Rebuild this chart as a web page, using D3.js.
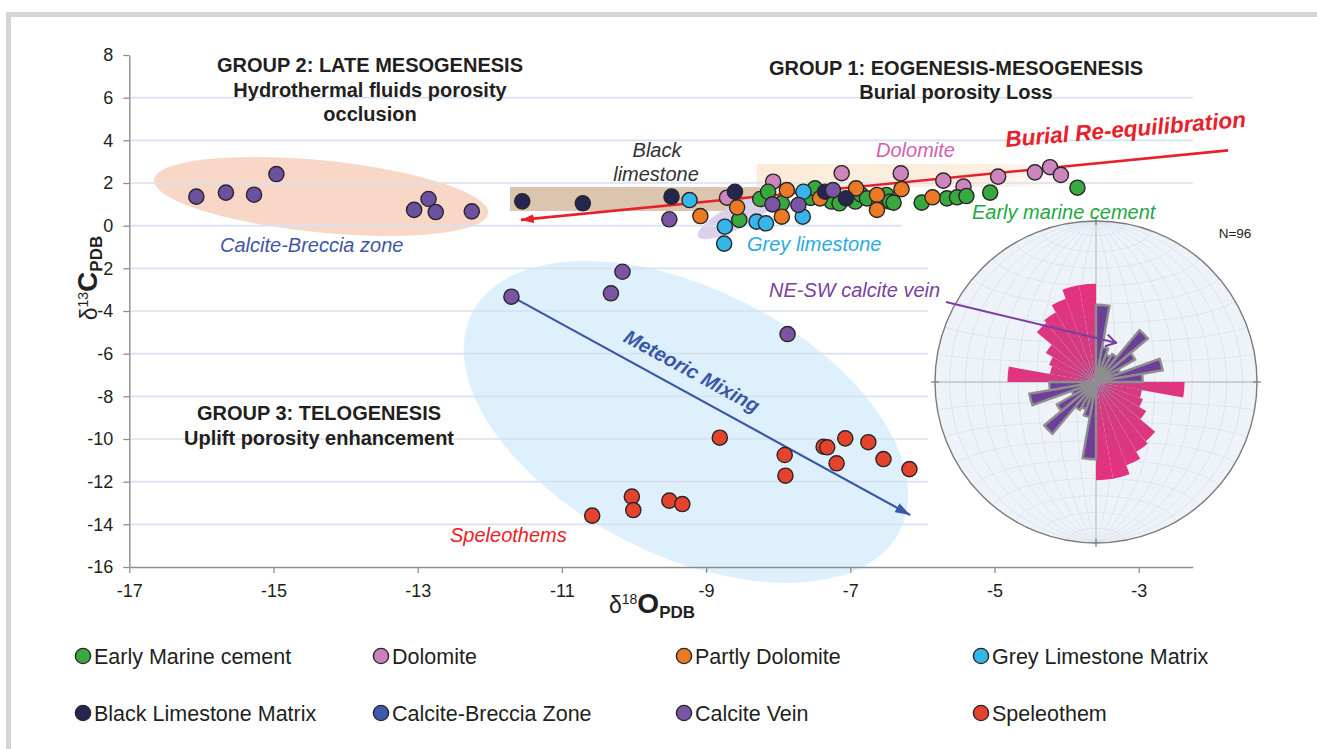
<!DOCTYPE html>
<html>
<head>
<meta charset="utf-8">
<script src="https://cdn.jsdelivr.net/npm/d3@7"></script>
<style>
  body { margin: 0; background: #fff; }
  svg { display: block; font-family: 'Liberation Sans', Arial, sans-serif; }
</style>
</head>
<body>
<script>
// chart values
const x_ticks = [-17, -15, -13, -11, -9, -7, -5, -3]
const y_ticks = [8, 6, 4, 2, 0, -2, -4, -6, -8, -10, -12, -14, -16]

const series_names = [
    'Early Marine cement', 'Dolomite', 'Partly Dolomite', 'Grey Limestone Matrix',
    'Black Limestone Matrix', 'Calcite-Breccia Zone', 'Calcite Vein', 'Speleothem',
]
const series_colors = ['#38a93f', '#cc7fba', '#ec7a24', '#34b7e8', '#23264f', '#3d5ba8', '#7a55a4', '#e5432c']
// the breccia samples are drawn in the same violet as the veins in the figure
const point_colors = ['#38a93f', '#cc86bd', '#ec7a24', '#34b7e8', '#23264f', '#6c51a0', '#7a55a4', '#e5432c']

// [d18O, d13C]
const early_marine_cement = [
    [-8.54, 0.27], [-8.25, 1.25], [-8.14, 1.59], [-7.95, 1.05], [-7.55, 1.30], [-7.49, 1.75],
    [-7.26, 1.13], [-7.15, 1.05], [-6.93, 1.13], [-6.85, 1.45], [-6.77, 1.28], [-6.60, 1.05],
    [-6.50, 1.44], [-6.45, 1.13], [-6.40, 1.08], [-6.01, 1.08], [-5.66, 1.28], [-5.52, 1.33],
    [-5.39, 1.39], [-5.06, 1.55], [-3.85, 1.78],
]
const dolomite = [
    [-8.71, 1.31], [-8.07, 2.06], [-7.12, 2.46], [-6.30, 2.45], [-5.71, 2.11], [-5.43, 1.83],
    [-4.95, 2.30], [-4.44, 2.50], [-4.23, 2.74], [-4.08, 2.38],
]
const partly_dolomite = [
    [-9.08, 0.45], [-8.57, 0.86], [-7.95, 0.42], [-7.88, 1.67], [-7.42, 1.28], [-6.92, 1.75],
    [-6.63, 1.44], [-6.63, 0.74], [-6.29, 1.71], [-5.86, 1.33],
]
const grey_limestone = [
    [-9.23, 1.20], [-8.74, -0.05], [-8.75, -0.84], [-8.30, 0.19], [-8.17, 0.11], [-7.66, 0.42], [-7.65, 1.59],
]
const black_limestone = [
    [-11.55, 1.14], [-10.71, 1.05], [-9.48, 1.36], [-8.60, 1.59], [-7.35, 1.59], [-7.06, 1.28],
]
const calcite_breccia = [
    [-16.07, 1.36], [-15.66, 1.55], [-15.27, 1.45], [-14.96, 2.42], [-13.05, 0.74], [-12.85, 1.25],
    [-12.75, 0.64], [-12.25, 0.67],
]
const calcite_vein = [
    [-11.70, -3.33], [-10.16, -2.16], [-10.32, -3.17], [-7.87, -5.08], [-9.51, 0.30], [-8.08, 1.00],
    [-7.72, 0.97], [-7.24, 1.67],
]
const speleothem = [
    [-8.81, -9.94], [-7.91, -10.75], [-7.90, -11.72], [-7.37, -10.36], [-7.32, -10.39], [-7.07, -9.97],
    [-7.19, -11.14], [-6.75, -10.15], [-6.54, -10.94], [-6.18, -11.41], [-10.03, -12.70], [-10.01, -13.33],
    [-10.58, -13.59], [-9.51, -12.89], [-9.33, -13.05],
]
const series_values = [
    early_marine_cement, dolomite, partly_dolomite, grey_limestone,
    black_limestone, calcite_breccia, calcite_vein, speleothem,
]
const draw_order = [1, 0, 2, 3, 4, 5, 6, 7]

// trend lines [d18O, d13C]
const burial_line = [[-11.57, 0.27], [-1.76, 3.53]]
const meteoric_line = [[-11.72, -3.28], [-6.17, -13.56]]

// rose diagram: 10 degree sectors (azimuth of sector start), relative length
const rose_azimuths = [0, 10, 20, 30, 40, 50, 60, 70, 80, 90, 100, 110, 120, 130, 140, 150, 160, 170]
const rose_fractures = [0, 0, 0, 0, 0, 0, 0, 0, 0, 0.55, 0.29, 0.31, 0.36, 0.48, 0.50, 0.55, 0.61, 0.61]
const rose_veins = [0.48, 0.22, 0.18, 0.20, 0.42, 0.28, 0.16, 0.42, 0.29, 0, 0, 0, 0, 0, 0, 0, 0, 0]

// global objects
const width = 1317
const height = 749
const x = d3.scaleLinear().domain([-17, -2.25]).range([129.3, 1192.8])
const y = d3.scaleLinear().domain([-16, 8]).range([567, 55])
const stereo = {'cx': 1096, 'cy': 382, 'r': 161}

const svg = d3.select('body').append('svg')
    .attr('width', width)
    .attr('height', height)

function draw_frame() {
    svg.append('rect').attr('x', 7).attr('y', 12).attr('width', width - 7).attr('height', 5).attr('fill', '#d5d5d5')
    svg.append('rect').attr('x', 6).attr('y', 12).attr('width', 5).attr('height', height - 12).attr('fill', '#d5d5d5')
}

function ellipse(cx, cy, rx, ry, angle, fill) {
    svg.append('ellipse')
        .attr('transform', `translate(${x(cx)},${y(cy)}) rotate(${angle})`)
        .attr('rx', rx)
        .attr('ry', ry)
        .attr('fill', fill)
}

function draw_zones() {
    const defs = svg.append('defs')
    const band = defs.append('linearGradient').attr('id', 'dolo-band')
    band.append('stop').attr('offset', '0%').attr('stop-color', '#fbecd9')
    band.append('stop').attr('offset', '75%').attr('stop-color', '#fcefe0')
    band.append('stop').attr('offset', '100%').attr('stop-color', '#fdf6ee').attr('stop-opacity', 0.2)

    ellipse(-9.28, -9.2, 240, 133, 27, '#def0fb')
    ellipse(-14.34, 1.37, 168, 36, 5.7, '#f9d7c7')
    svg.append('rect')
        .attr('x', x(-8.3)).attr('y', y(2.89))
        .attr('width', x(-4.0) - x(-8.3)).attr('height', y(1.81) - y(2.89))
        .attr('fill', 'url(#dolo-band)')
    svg.append('rect')
        .attr('x', x(-11.72)).attr('y', y(1.81))
        .attr('width', x(-8.25) - x(-11.72)).attr('height', y(0.69) - y(1.81))
        .attr('fill', '#dbc5ae')
    ellipse(-8.58, 0.41, 43, 12, -27, '#dad1ec')
}

function draw_axes() {
    // grid
    svg.append('g').selectAll('line')
        .data(y_ticks.filter(d => d < 8 && d > -16))
        .enter()
        .append('line')
        .attr('x1', x(-17)).attr('x2', x.range()[1])
        .attr('y1', d => y(d)).attr('y2', d => y(d))
        .style('stroke', '#d7e1f1')
        .style('stroke-width', 1.6)

    const y_axis = svg.append('g')
        .attr('transform', `translate(${x(-17)},0)`)
        .call(d3.axisLeft(y).tickValues(y_ticks).tickSize(6).tickSizeOuter(0).tickPadding(10).tickFormat(d3.format('d')))
    const x_axis = svg.append('g')
        .attr('transform', `translate(0,${y(-16)})`)
        .call(d3.axisBottom(x).tickValues(x_ticks).tickSize(6).tickSizeOuter(0).tickPadding(11).tickFormat(d3.format('d')))
    for (const a of [x_axis, y_axis]) {
        a.select('.domain').style('stroke', '#8e8e8e').style('stroke-width', 1.4)
        a.selectAll('.tick line').style('stroke', '#8e8e8e').style('stroke-width', 1.3)
        a.selectAll('.tick text')
            .style('font-size', '18px')
            .style('fill', '#231f20')
            .style('font-family', "'Liberation Sans', Arial, sans-serif")
            .text(d => String(d).replace('−', '-'))
    }

    // axis titles
    const xt = svg.append('text')
        .attr('x', 652).attr('y', 613)
        .attr('text-anchor', 'middle')
        .style('fill', '#231f20')
    xt.append('tspan').text('δ').style('font-size', '23px')
    xt.append('tspan').text('18').attr('dy', -9).style('font-size', '14px')
    xt.append('tspan').text('O').attr('dy', 9).style('font-size', '28px').style('font-weight', 'bold')
    xt.append('tspan').text('PDB').attr('dy', 5).style('font-size', '17px').style('font-weight', 'bold')

    const yt = svg.append('text')
        .attr('transform', 'translate(97,278) rotate(-90)')
        .attr('text-anchor', 'middle')
        .style('fill', '#231f20')
    yt.append('tspan').text('δ').style('font-size', '23px')
    yt.append('tspan').text('13').attr('dy', -9).style('font-size', '14px')
    yt.append('tspan').text('C').attr('dy', 9).style('font-size', '28px').style('font-weight', 'bold')
    yt.append('tspan').text('PDB').attr('dy', 5).style('font-size', '17px').style('font-weight', 'bold')
}

function add_marker(id, color, w, h, open) {
    const m = svg.select('defs').append('marker')
        .attr('id', id)
        .attr('viewBox', `0 0 ${w} ${h}`)
        .attr('refX', w).attr('refY', h / 2)
        .attr('markerWidth', w).attr('markerHeight', h)
        .attr('markerUnits', 'userSpaceOnUse')
        .attr('orient', 'auto-start-reverse')
    if (open) {
        m.append('path').attr('d', `M1,1 L${w - 1},${h / 2} L1,${h - 1}`)
            .attr('fill', 'none').attr('stroke', color).attr('stroke-width', 2)
    } else {
        m.append('path').attr('d', `M0,0 L${w},${h / 2} L0,${h} Z`).attr('fill', color)
    }
}

function draw_trends() {
    add_marker('arrow-red', '#e8202a', 13, 9, false)
    add_marker('arrow-blue', '#3a57a8', 15, 10, false)
    const line = d3.line().x(d => x(d[0])).y(d => y(d[1]))
    svg.append('path')
        .attr('d', line(burial_line))
        .attr('fill', 'none')
        .attr('stroke', '#e8202a')
        .attr('stroke-width', 2.6)
        .attr('marker-start', 'url(#arrow-red)')
    svg.append('path')
        .attr('d', line(meteoric_line))
        .attr('fill', 'none')
        .attr('stroke', '#3a57a8')
        .attr('stroke-width', 2.2)
        .attr('marker-end', 'url(#arrow-blue)')
}

function draw_points() {
    for (const i of draw_order) {
        svg.append('g').selectAll('circle')
            .data(series_values[i])
            .enter()
            .append('circle')
            .attr('cx', d => x(d[0]))
            .attr('cy', d => y(d[1]))
            .attr('r', 7.6)
            .style('fill', point_colors[i])
            .style('stroke', '#2a2528')
            .style('stroke-width', 1.4)
    }
}

function draw_stereonet() {
    const {cx, cy, r} = stereo
    // white backing of the inset picture
    svg.append('rect').attr('x', 902).attr('y', 221).attr('width', 360).attr('height', 12).attr('fill', '#fff')
    svg.append('rect').attr('x', 928).attr('y', 221).attr('width', 334).attr('height', 328).attr('fill', '#fff')

    const g = svg.append('g').attr('transform', `translate(${cx},${cy})`)
    g.append('circle').attr('r', r).attr('fill', '#eef3f9')

    // equal-area net
    const project = (e, n, u) => {
        const theta = Math.acos(Math.max(-1, Math.min(1, -u)))
        const rr = r * Math.SQRT2 * Math.sin(theta / 2)
        const h = Math.hypot(e, n) || 1
        return [rr * e / h, -rr * n / h]
    }
    const net_line = d3.line()
    const net = g.append('g').attr('fill', 'none').attr('stroke', '#d9e0ea').attr('stroke-width', 0.7)
    for (let dip = 10; dip < 90; dip += 10) {
        for (const s of [1, -1]) {
            const pts = d3.range(0, 181, 3).map(t => {
                const a = t * Math.PI / 180, dd = dip * Math.PI / 180
                return project(s * Math.sin(a) * Math.cos(dd), Math.cos(a), -Math.sin(a) * Math.sin(dd))
            })
            net.append('path').attr('d', net_line(pts))
        }
    }
    for (let al = 10; al < 180; al += 10) {
        const pts = d3.range(0, 181, 3).map(t => {
            const a = t * Math.PI / 180, b = al * Math.PI / 180
            return project(Math.sin(b) * Math.cos(a), Math.cos(b), -Math.sin(b) * Math.sin(a))
        })
        net.append('path').attr('d', net_line(pts))
    }
    g.append('line').attr('x1', -r).attr('x2', r).attr('stroke', '#a3a7ad').attr('stroke-width', 0.8)
    g.append('line').attr('y1', -r).attr('y2', r).attr('stroke', '#a3a7ad').attr('stroke-width', 0.8)

    const grad = svg.select('defs').append('radialGradient')
        .attr('id', 'rose-pink')
        .attr('gradientUnits', 'userSpaceOnUse')
        .attr('cx', 0).attr('cy', 0).attr('r', r * 0.62)
    grad.append('stop').attr('offset', '0%').attr('stop-color', '#8c6a8e')
    grad.append('stop').attr('offset', '22%').attr('stop-color', '#d03d82')
    grad.append('stop').attr('offset', '100%').attr('stop-color', '#e5317f')

    const rad = d3.scaleLinear().domain([0, 1]).range([0, r])
    const sectors = (values) => rose_azimuths.flatMap((az, i) => [
        {'az': az, 'v': values[i]}, {'az': az + 180, 'v': values[i]},
    ]).filter(d => d.v > 0)
    const arc = d3.arc()
        .innerRadius(0)
        .outerRadius(d => rad(d.v))
        .startAngle(d => d.az * Math.PI / 180)
        .endAngle(d => (d.az + 10) * Math.PI / 180)
    g.append('g').selectAll('path')
        .data(sectors(rose_fractures))
        .enter()
        .append('path')
        .attr('d', arc)
        .attr('fill', 'url(#rose-pink)')
    g.append('g').selectAll('path')
        .data(sectors(rose_veins))
        .enter()
        .append('path')
        .attr('d', arc)
        .attr('fill', '#6e3f97')
        .attr('stroke', '#8e8e8e')
        .attr('stroke-width', 2.4)
        .attr('stroke-linejoin', 'miter')
    g.append('circle').attr('r', 2.5).attr('fill', '#8e8e8e')

    g.append('circle').attr('r', r).attr('fill', 'none').attr('stroke', '#7b7b7b').attr('stroke-width', 1.4)
    for (const a of [0, 90, 180, 270]) {
        g.append('line')
            .attr('transform', `rotate(${a})`)
            .attr('y1', -r - 4).attr('y2', -r + 4)
            .attr('stroke', '#7b7b7b').attr('stroke-width', 1.2)
    }
    svg.append('text').text('N=96')
        .attr('x', 1235).attr('y', 238)
        .attr('text-anchor', 'middle')
        .style('font-size', '13.5px')
        .style('fill', '#231f20')

    // label arrow into the inset
    add_marker('arrow-vein', '#7b3fa0', 12, 14, true)
    svg.append('line')
        .attr('x1', 946).attr('y1', 302)
        .attr('x2', 1117).attr('y2', 343)
        .attr('stroke', '#7b3fa0')
        .attr('stroke-width', 2)
        .attr('marker-end', 'url(#arrow-vein)')
}

function draw_labels() {
    const labels = [
        {t: 'GROUP 2: LATE MESOGENESIS', x: 370, y: 72, a: 'middle', w: 'bold', c: '#231f20'},
        {t: 'Hydrothermal fluids porosity', x: 370, y: 96.5, a: 'middle', w: 'bold', c: '#231f20'},
        {t: 'occlusion', x: 370, y: 121, a: 'middle', w: 'bold', c: '#231f20'},
        {t: 'GROUP 1: EOGENESIS-MESOGENESIS', x: 956, y: 75, a: 'middle', w: 'bold', c: '#231f20'},
        {t: 'Burial porosity Loss', x: 956, y: 99, a: 'middle', w: 'bold', c: '#231f20'},
        {t: 'GROUP 3: TELOGENESIS', x: 319, y: 420, a: 'middle', w: 'bold', c: '#231f20'},
        {t: 'Uplift porosity enhancement', x: 319, y: 445, a: 'middle', w: 'bold', c: '#231f20'},
        {t: 'Black', x: 657, y: 157, a: 'middle', s: 'italic', c: '#333'},
        {t: 'limestone', x: 656, y: 181, a: 'middle', s: 'italic', c: '#333'},
        {t: 'Dolomite', x: 876, y: 157, a: 'start', s: 'italic', c: '#d35fae'},
        {t: 'Early marine cement', x: 972, y: 219, a: 'start', s: 'italic', c: '#21a843'},
        {t: 'Grey limestone', x: 747, y: 251, a: 'start', s: 'italic', c: '#29abe2'},
        {t: 'Calcite-Breccia zone', x: 220, y: 252, a: 'start', s: 'italic', c: '#3f56a6'},
        {t: 'NE-SW calcite vein', x: 769, y: 297, a: 'start', s: 'italic', c: '#7b3fa0'},
        {t: 'Speleothems', x: 450, y: 542, a: 'start', s: 'italic', c: '#ed2224'},
    ]
    svg.append('g').selectAll('text')
        .data(labels)
        .enter()
        .append('text')
        .text(d => d.t)
        .attr('x', d => d.x)
        .attr('y', d => d.y)
        .attr('text-anchor', d => d.a)
        .style('font-size', '20px')
        .style('font-weight', d => d.w || 'normal')
        .style('font-style', d => d.s || 'normal')
        .style('fill', d => d.c)

    svg.append('text')
        .text('Burial Re-equilibration')
        .attr('transform', 'translate(1006,147) rotate(-4.8)')
        .style('font-size', '22.5px')
        .style('font-weight', 'bold')
        .style('font-style', 'italic')
        .style('fill', '#e8202a')
    svg.append('text')
        .text('Meteoric Mixing')
        .attr('transform', 'translate(692,371) rotate(28.6)')
        .attr('text-anchor', 'middle')
        .attr('dominant-baseline', 'central')
        .style('font-size', '20px')
        .style('font-weight', 'bold')
        .style('font-style', 'italic')
        .style('fill', '#3a57a8')
}

function draw_legend() {
    const cols = [83, 381, 684, 981]
    const rows = [656, 713]
    const items = series_names.map((name, i) => ({name: name, color: series_colors[i], cx: cols[i % 4], cy: rows[Math.floor(i / 4)]}))
    const g = svg.append('g').selectAll('g')
        .data(items)
        .enter()
        .append('g')
        .attr('transform', d => `translate(${d.cx},${d.cy})`)
    g.append('circle')
        .attr('r', 7.6)
        .style('fill', d => d.color)
        .style('stroke', '#2a2528')
        .style('stroke-width', 1.4)
    g.append('text')
        .text(d => d.name)
        .attr('x', 11)
        .attr('dy', '0.35em')
        .style('font-size', '21.5px')
        .style('fill', '#231f20')
}

function main() {
    draw_frame()
    draw_zones()
    draw_axes()
    draw_trends()
    draw_points()
    draw_stereonet()
    draw_labels()
    draw_legend()
}

// main
main()
</script>
</body>
</html>
